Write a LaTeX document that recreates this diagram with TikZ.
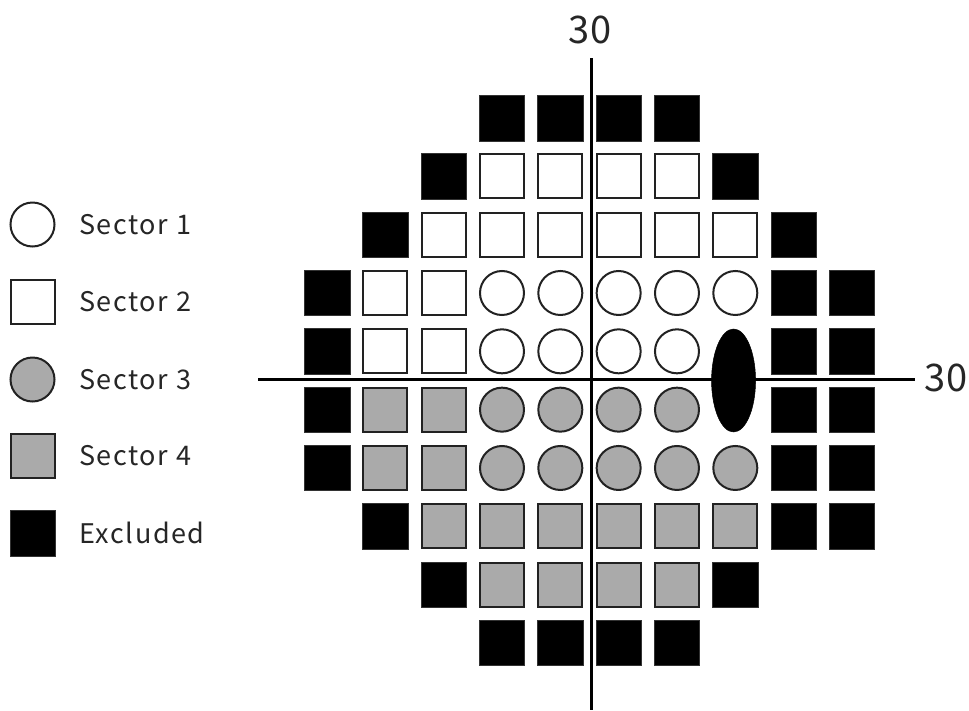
\documentclass[tikz,border=0pt]{standalone}
\usepackage{fontspec}
\setmainfont{Noto Sans CJK JP}
\newfontfamily\legendfont[LetterSpace=6]{Noto Sans CJK JP}
\usetikzlibrary{shapes.geometric}
\definecolor{cellgray}{RGB}{170,170,170}
\definecolor{edge}{RGB}{34,34,34}
\tikzset{
  cell/.style={rectangle, inner sep=0pt, minimum size=44pt, line width=2pt, draw=edge},
  wsq/.style={cell, fill=white},
  gsq/.style={cell, fill=cellgray},
  wcirc/.style={cell, circle, fill=white},
  gcirc/.style={cell, circle, fill=cellgray},
  excl/.style={rectangle, inner sep=0pt, minimum size=45.5pt, line width=0.5pt, draw=black!80, fill=black},
  axis/.style={line width=3pt, draw=black},
  lgtext/.style={anchor=west, inner sep=0pt, text=black!85, font=\legendfont\fontsize{27}{31}\selectfont},
  axlabel/.style={inner sep=0pt, text=black!85, font=\fontsize{38}{44}\selectfont}
}
\begin{document}
\begin{tikzpicture}[x=1pt,y=-1pt]
\useasboundingbox (0,0) rectangle (969,710);
% axes
\coordinate (vtop) at (591,58);
\coordinate (vbot) at (591,710);
\coordinate (hl) at (258,379.5);
\coordinate (hr) at (915,379.5);
\draw[axis] (vtop) -- (vbot);
\draw[axis] (hl) -- (hr);
\node[axlabel] (ltop) at (590,30) {30};
\node[axlabel] (lright) at (946,378) {30};
% grid
\begin{scope}[shift={(327,118)}, x=58.33pt, y=-58.33pt]
  % row 1
  \foreach \c in {4,...,7} \node[excl] (r1c\c) at (\c-1,0) {};
  % row 2
  \foreach \c in {3,8} \node[excl] (r2c\c) at (\c-1,1) {};
  \foreach \c in {4,...,7} \node[wsq] (r2c\c) at (\c-1,1) {};
  % row 3
  \foreach \c in {2,9} \node[excl] (r3c\c) at (\c-1,2) {};
  \foreach \c in {3,...,8} \node[wsq] (r3c\c) at (\c-1,2) {};
  % row 4
  \foreach \c in {1,9,10} \node[excl] (r4c\c) at (\c-1,3) {};
  \foreach \c in {2,3} \node[wsq] (r4c\c) at (\c-1,3) {};
  \foreach \c in {4,...,8} \node[wcirc] (r4c\c) at (\c-1,3) {};
  % row 5
  \foreach \c in {1,9,10} \node[excl] (r5c\c) at (\c-1,4) {};
  \foreach \c in {2,3} \node[wsq] (r5c\c) at (\c-1,4) {};
  \foreach \c in {4,...,7} \node[wcirc] (r5c\c) at (\c-1,4) {};
  % blind spot
  \node[ellipse, inner sep=0pt, minimum width=44pt, minimum height=103pt, fill=black, draw=black, line width=0.5pt] (spot) at (6.97,4.5) {};
  % row 6
  \foreach \c in {1,9,10} \node[excl] (r6c\c) at (\c-1,5) {};
  \foreach \c in {2,3} \node[gsq] (r6c\c) at (\c-1,5) {};
  \foreach \c in {4,...,7} \node[gcirc] (r6c\c) at (\c-1,5) {};
  % row 7
  \foreach \c in {1,9,10} \node[excl] (r7c\c) at (\c-1,6) {};
  \foreach \c in {2,3} \node[gsq] (r7c\c) at (\c-1,6) {};
  \foreach \c in {4,...,8} \node[gcirc] (r7c\c) at (\c-1,6) {};
  % row 8
  \foreach \c in {2,9,10} \node[excl] (r8c\c) at (\c-1,7) {};
  \foreach \c in {3,...,8} \node[gsq] (r8c\c) at (\c-1,7) {};
  % row 9
  \foreach \c in {3,8} \node[excl] (r9c\c) at (\c-1,8) {};
  \foreach \c in {4,...,7} \node[gsq] (r9c\c) at (\c-1,8) {};
  % row 10
  \foreach \c in {4,...,7} \node[excl] (r10c\c) at (\c-1,9) {};
\end{scope}
% legend
\node[wcirc] (lg1) at (32.5,224.5) {};
\node[wsq]   (lg2) at (32.5,302) {};
\node[gcirc] (lg3) at (32.5,379.5) {};
\node[gsq]   (lg4) at (32.5,456) {};
\node[excl]  (lg5) at (32.5,533) {};
\node[lgtext] (t1) at (79,224.5) {Sector 1};
\node[lgtext] (t2) at (79,302) {Sector 2};
\node[lgtext] (t3) at (79,379.5) {Sector 3};
\node[lgtext] (t4) at (79,456) {Sector 4};
\node[lgtext] (t5) at (79,533) {Excluded};
\end{tikzpicture}
\end{document}
